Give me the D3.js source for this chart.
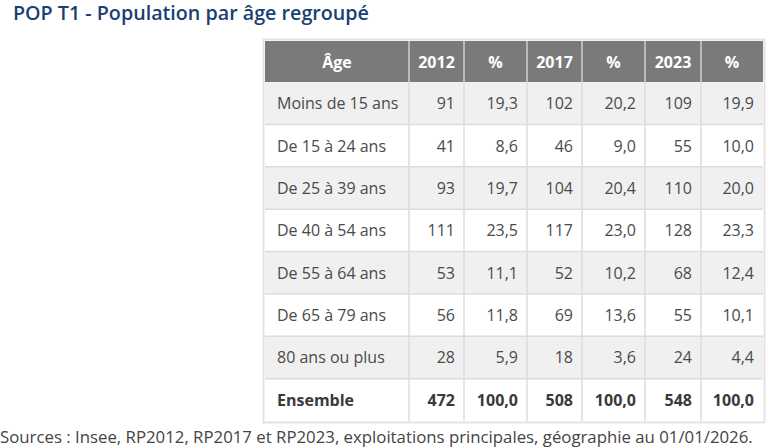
<!DOCTYPE html>
<html><head><meta charset="utf-8">
<script src="https://cdn.jsdelivr.net/npm/d3@7"></script>
<style>
html,body{margin:0;padding:0;background:#fff;}
svg{display:block;font-family:"Open Sans",sans-serif;}
</style></head>
<body><svg id="c" width="768" height="447"></svg>
<script>
const title = "POP T1 - Population par âge regroupé";
const source = "Sources : Insee, RP2012, RP2017 et RP2023, exploitations principales, géographie au 01/01/2026.";
const headers = ["Âge","2012","%","2017","%","2023","%"];
const categories = ["Moins de 15 ans","De 15 à 24 ans","De 25 à 39 ans","De 40 à 54 ans","De 55 à 64 ans","De 65 à 79 ans","80 ans ou plus","Ensemble"];
const pop2012 = [91,41,93,111,53,56,28,472];
const pct2012 = ["19,3","8,6","19,7","23,5","11,1","11,8","5,9","100,0"];
const pop2017 = [102,46,104,117,52,69,18,508];
const pct2017 = ["20,2","9,0","20,4","23,0","10,2","13,6","3,6","100,0"];
const pop2023 = [109,55,110,128,68,55,24,548];
const pct2023 = ["19,9","10,0","20,0","23,3","12,4","10,1","4,4","100,0"];

const svg = d3.select("#c");
const colEdges = [265,409,464,527,582,645,701,763];
const xCol = d3.scaleOrdinal().domain(d3.range(7)).range(colEdges.slice(0,7));
const colW = i => colEdges[i+1]-colEdges[i];
const headTop = 41, headBot = 82, tableBot = 421;
const y = d3.scaleBand().domain(categories).range([headBot, tableBot]);

svg.append("text").attr("x",13).attr("y",20).attr("font-size",19.7).attr("font-weight",600)
  .attr("fill","#1a3f73").text(title);

// outer border
svg.append("rect").attr("x",colEdges[0]-1.5).attr("y",headTop-1.5)
  .attr("width",colEdges[7]-colEdges[0]+3).attr("height",tableBot-headTop+3)
  .attr("fill","none").attr("stroke","#e3e3e3").attr("stroke-width",2);

// header
const hg = svg.append("g");
hg.selectAll("rect").data(headers).join("rect")
  .attr("x",(d,i)=>xCol(i)).attr("y",headTop).attr("width",(d,i)=>colW(i)).attr("height",headBot-headTop)
  .attr("fill","#7a7a7a");
hg.selectAll("text").data(headers).join("text")
  .attr("x",(d,i)=>xCol(i)+colW(i)/2).attr("y",(headTop+headBot)/2+6)
  .attr("text-anchor","middle").attr("font-size",16).attr("font-weight",700).attr("fill","#fff").text(d=>d);

// rows
const rows = categories.map((c,i)=>[c,pop2012[i],pct2012[i],pop2017[i],pct2017[i],pop2023[i],pct2023[i]]);
const rg = svg.selectAll("g.row").data(rows).join("g").attr("class","row")
  .attr("transform",d=>`translate(0,${y(d[0])})`);
rg.append("rect").attr("x",colEdges[0]).attr("width",colEdges[7]-colEdges[0]).attr("height",y.bandwidth())
  .attr("fill",(d,i)=> i%2===0 && i<7 ? "#f0f0f0" : "#fff");
rg.selectAll("text").data((d,ri)=>d.map(v=>({v,ri}))).join("text")
  .attr("x",(d,i)=> i===0 ? xCol(0)+12 : xCol(i)+colW(i)-9)
  .attr("y",y.bandwidth()/2+6)
  .attr("text-anchor",(d,i)=> i===0 ? "start":"end")
  .attr("font-size",16)
  .attr("font-weight",d=> d.ri===7 ? 700 : 400)
  .attr("fill",d=> d.ri===7 ? "#3a3a3a" : "#4a4a4a")
  .text(d=>d.v);

// grid lines
const gl = svg.append("g").attr("stroke","#dcdcdc").attr("stroke-width",1.5);
categories.slice(1).forEach(c=>{
  gl.append("line").attr("x1",colEdges[0]).attr("x2",colEdges[7]).attr("y1",y(c)).attr("y2",y(c));
});
colEdges.slice(1,7).forEach(xe=>{
  gl.append("line").attr("x1",xe).attr("x2",xe).attr("y1",headBot).attr("y2",tableBot);
  svg.append("line").attr("x1",xe).attr("x2",xe).attr("y1",headTop).attr("y2",headBot)
    .attr("stroke","#cfcfcf").attr("stroke-width",1.5);
});

svg.append("text").attr("x",0).attr("y",443).attr("font-size",16.8).attr("fill","#444").text(source);
</script></body></html>
